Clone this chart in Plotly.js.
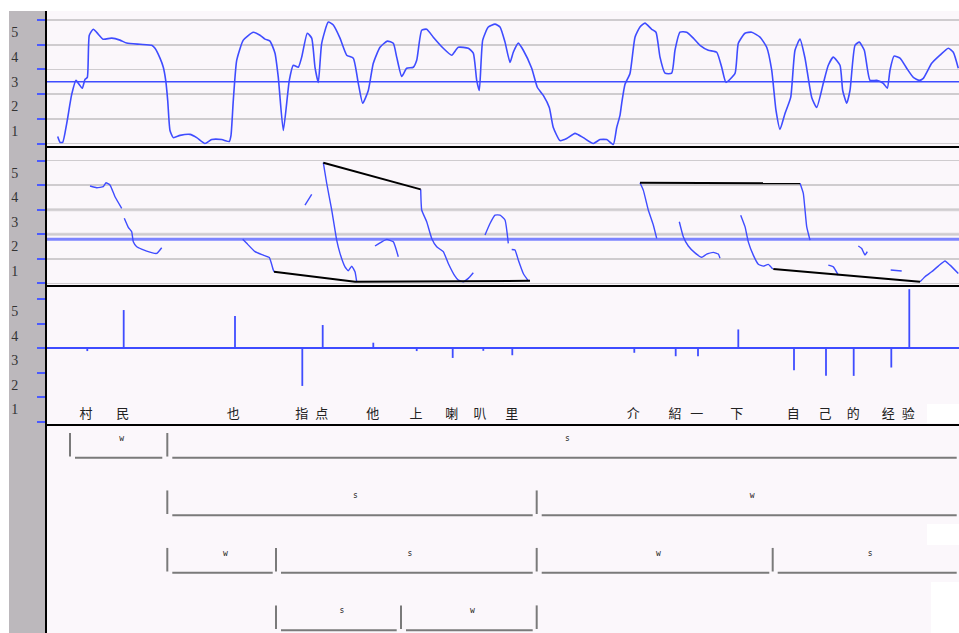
<!DOCTYPE html>
<html><head><meta charset="utf-8">
<script src="https://cdn.plot.ly/plotly-3.0.1.min.js"></script>
<style>html,body{margin:0;padding:0;background:#fff;}#g{width:959px;height:633px;}</style>
</head><body><div id="g"></div>
<script>
// ---- Panel 1: F0 contour (time, level) ----
const p1x = [57.7,60,62.7,66.7,71.7,76,78.3,82.3,85,87.3,89.3,93.3,98.3,103,111.7,120,126.7,140,151.7,155,160,163.3,165.7,167.7,170,173.3,180,190,196.7,205,211.7,221.7,229.3,231,233.3,236.7,243.3,253.3,260,265,270,275,278.3,283.3,289.3,293.3,298.3,301.7,307.3,311.7,315,318.3,321.7,328.3,333.3,340,346.7,353.3,358.3,362.7,368.3,373.3,380,387.3,393.3,396.7,401.7,406.7,413.3,416.7,421.7,426.7,433.3,443.3,451.7,458.3,468.3,473.3,476.7,479.3,482.7,488.3,495,500,505,510,513.3,518.3,523.3,531.7,537.3,543.3,549.3,553.3,560,566.7,575,583.3,593.3,600,606.7,613.3,616.7,620,621.7,625,630,635,640,645,651.7,656,660,665,671.7,675,680,686.7,693.3,700,708.3,716.7,721.7,726,735,738.3,745,751.7,760,766.7,771.7,776,780,785,790.7,795,800,805,811.7,816.7,823.3,828.3,833.3,840,842.7,846.7,850,855,859.3,864.3,870,876.7,883.3,887.3,890,894,900,906.7,913.3,919.3,923.3,931.7,940,948.3,953.3,958.3];
const p1y = [0.78,0.55,0.55,1.31,2.49,3.06,2.94,2.74,3.10,3.18,4.89,5.13,4.93,4.73,4.77,4.69,4.57,4.52,4.48,4.36,3.96,3.59,3.06,2.25,1.03,0.74,0.83,0.87,0.74,0.50,0.66,0.66,0.58,0.83,2.25,3.87,4.69,5.01,4.89,4.73,4.65,4.16,3.18,1.03,3.06,3.67,3.59,4.0,4.97,4.77,3.59,2.98,4.56,5.42,5.30,4.77,4.08,3.96,2.94,2.13,2.65,3.75,4.40,4.65,4.56,4.0,3.22,3.55,3.59,3.87,5.09,5.13,4.81,4.36,4.08,4.40,4.36,4.16,3.06,2.65,4.69,5.22,5.34,5.22,4.61,3.79,4.20,4.57,4.28,3.55,2.78,2.45,1.96,1.15,0.62,0.70,0.91,0.74,0.50,0.66,0.66,0.46,1.15,1.64,2.13,2.90,3.34,4.81,5.22,5.38,5.13,5.01,4.0,3.35,3.35,4.28,5.01,5.01,4.77,4.48,4.28,4.20,3.59,2.98,3.34,4.56,4.97,5.01,4.81,4.40,3.47,1.84,1.07,1.72,2.37,4.28,4.73,3.96,2.37,1.96,2.94,3.67,4.0,3.67,2.65,2.13,2.65,4.48,4.61,4.28,3.06,3.06,2.94,2.74,3.47,4.04,3.96,3.55,3.18,3.06,3.14,3.75,4.08,4.36,4.2,3.55];
const p1ref = 3.0;

// ---- Panel 2: stylised contour segments (null = break) ----
const p2x = [90,96.7,103.3,106,110,115,121.7,null,124.3,128.3,131.7,133.3,136.7,146.7,156.7,161.7,null,
  242.7,246.7,255,263.3,269.3,273.3,274,null,305,311.7,null,
  323.3,326.7,331.7,335,336.7,340,345,348.3,351.7,355,356.7,null,
  375,381.7,386.7,393.3,398.3,null,
  420.7,421.7,426.7,431.7,436.7,443.3,448.3,455,458.3,463.3,468.3,473.3,null,
  485,490,495,500,505,508.3,null,511.7,515,518.3,523.3,528.3,null,
  640,643.3,648.3,653.3,656.7,null,
  679.3,683.3,688.3,695,701.7,706.7,713.3,718.3,720,null,
  740.7,745,748.3,753.3,758.3,763.3,768.3,772.7,null,
  800,803.3,806.7,810,null,828.3,833.3,838.3,null,858.3,861.7,865,867.3,null,890.7,901.7,null,
  920,925,931.7,938.3,945,950,958.3];
const p2y = [4.47,4.40,4.44,4.60,4.51,4.03,3.56,null,3.15,2.78,2.60,2.19,1.99,1.81,1.72,1.95,null,
  2.30,2.13,1.79,1.65,1.55,1.04,0.97,null,3.69,4.13,null,
  5.42,4.58,3.49,2.67,2.26,1.72,1.17,1.01,1.20,0.97,0.56,null,
  2.02,2.19,2.29,2.19,1.58,null,
  4.33,3.49,3.01,2.33,1.99,1.79,1.31,0.79,0.63,0.56,0.70,0.93,null,
  2.47,2.94,3.28,3.28,3.08,2.13,null,1.88,1.86,1.45,0.90,0.60,null,
  4.60,4.30,3.49,2.88,2.33,null,
  3.01,2.40,2.02,1.74,1.56,1.69,1.76,1.69,1.52,null,
  3.28,2.81,2.19,1.65,1.28,1.20,1.27,1.08,null,
  4.58,4.17,2.81,2.26,null,1.24,1.17,0.83,null,2.02,1.92,1.65,1.79,null,1.04,1.00,null,
  0.56,0.77,0.97,1.20,1.41,1.24,0.90];
const p2blackX = [323.3,420.7,null,274,355,530,null,640,800,null,773.3,920];
const p2blackY = [5.42,4.33,null,0.97,0.56,0.60,null,4.60,4.58,null,1.08,0.56];
const p2ref = 2.30;

// ---- Panel 3: per-syllable spikes around baseline ----
const p3base = 3.5;
const spikeX = [87.3,123.7,235,302.3,322.7,373.3,416.7,452.7,483.3,512.3,634.3,675.7,698,738.3,794,826,853.7,891.3,909.3];
const spikeVal = [3.38,5.05,4.81,1.96,4.44,3.72,3.38,3.10,3.39,3.21,3.31,3.17,3.17,4.26,2.60,2.37,2.37,2.71,5.90];
const charX = [86,122.7,233.3,301.7,321.7,372.7,416,451.7,480,511.7,633.3,675,696.7,736.7,793.3,825,853.3,888.3,908.3];
const charLabels = ['村','民','也','指','点','他','上','喇','叭','里','介','紹','一','下','自','己','的','经','验'];
const charLevel = 0.77;

// ---- Tree (prosodic s/w structure) ----
const treeLevel = [1,1,2,2,3,3,3,3,4,4,4];
const treeStart = [70,167.3,167.3,536.7,167.3,276,536.7,772.7,276,401,536.7];
const treeEnd   = [162.3,956.7,532.7,956.7,272.7,532.7,769.3,956.7,396.7,532.7,null];
const treeLabel = ['w','s','s','w','w','s','w','s','s','w',''];

const tickLabels = ['1','2','3','4','5'];
const tickPos = [1,2,3,4,5];

const BLUE = '#3f4cff';
const traces = [];
traces.push({x:[47,959], y:[p1ref,p1ref], xaxis:'x', yaxis:'y', mode:'lines', line:{color:BLUE,width:1.5}});
traces.push({x:p1x, y:p1y, xaxis:'x', yaxis:'y', mode:'lines', line:{color:BLUE,width:1.6,shape:'spline',smoothing:0.5}});
traces.push({x:[47,959], y:[p2ref,p2ref], xaxis:'x2', yaxis:'y2', mode:'lines', line:{color:'#7c84ff',width:3}});
traces.push({x:p2x, y:p2y, xaxis:'x2', yaxis:'y2', mode:'lines', connectgaps:false, line:{color:BLUE,width:1.4,shape:'spline',smoothing:0.4}});
traces.push({x:p2blackX, y:p2blackY, xaxis:'x2', yaxis:'y2', mode:'lines', connectgaps:false, line:{color:'#000',width:2}});
traces.push({x:[47,959], y:[p3base,p3base], xaxis:'x3', yaxis:'y3', mode:'lines', line:{color:BLUE,width:2}});
const sx=[], sy=[];
spikeX.forEach((x,i)=>{sx.push(x,x,null); sy.push(p3base,spikeVal[i],null);});
traces.push({x:sx, y:sy, xaxis:'x3', yaxis:'y3', mode:'lines', connectgaps:false, line:{color:BLUE,width:1.8}});
traces.push({x:charX, y:charX.map(()=>charLevel), text:charLabels, xaxis:'x3', yaxis:'y3', mode:'text',
  textfont:{family:'Noto Sans CJK SC', size:13, color:'#222'}});
// tree
const GAP = 5, BAR_TOP = 0.43, BAR_BOT = 0.02, LAB_OFF = 0.33;
const bx=[], by=[], lx=[], ly=[], tx=[], ty=[], tt=[];
treeLevel.forEach((L,i)=>{
  const s=treeStart[i], e=treeEnd[i];
  bx.push(s,s,null); by.push(L-BAR_TOP,L-BAR_BOT,null);
  if(e!==null){ lx.push(s+GAP,e,null); ly.push(L,L,null);
    tx.push((s+GAP+e)/2+3); ty.push(L-LAB_OFF); tt.push(treeLabel[i]); }
});
traces.push({x:bx, y:by, xaxis:'x4', yaxis:'y4', mode:'lines', connectgaps:false, line:{color:'#7a7a7a',width:2}});
traces.push({x:lx, y:ly, xaxis:'x4', yaxis:'y4', mode:'lines', connectgaps:false, line:{color:'#7a7a7a',width:2}});
traces.push({x:tx, y:ty, text:tt, xaxis:'x4', yaxis:'y4', mode:'text', textfont:{family:'DejaVu Sans Mono', size:8, color:'#222'}});

const H=622;
function dom(p0,p1){return [(633-p1)/H,(633-p0)/H];}
function xax(anchor,line){return {anchor:anchor, domain:[0,1], range:[47,959], showgrid:false, zeroline:false, showticklabels:false, ticks:'', showline:line, linecolor:'#000', linewidth:2, fixedrange:true};}
function yax(anchor,d,r,grid,labels){
  const o={anchor:anchor, domain:d, range:r, zeroline:false, showgrid:false, showline:true, linecolor:'#000', linewidth:2, fixedrange:true};
  if(labels){
    o.tickmode='array'; o.tickvals=tickPos; o.ticktext=tickLabels; o.ticks=''; o.ticklabelstandoff=24;
    o.tickfont={family:'Liberation Serif', size:14, color:'#333'};
    o.minor={tickmode:'linear', tick0:0.5, dtick:1, ticks:'outside', ticklen:8, tickwidth:2, tickcolor:'#4a5aff', showgrid:grid, gridcolor:'#cfcccf', gridwidth:1.5};
  } else { o.showticklabels=false; o.ticks=''; }
  return o;
}
const layout = {
  width:959, height:633, margin:{l:47,r:0,t:11,b:0}, showlegend:false, hovermode:false,
  paper_bgcolor:'#ffffff', plot_bgcolor:'#fbf7fb',
  xaxis:xax('y',true), xaxis2:xax('y2',true), xaxis3:xax('y3',true), xaxis4:xax('y4',false),
  yaxis:yax('x',dom(11,146),[0.40,5.87],true,true),
  yaxis2:yax('x2',dom(146,285),[0.43,6.10],true,true),
  yaxis3:yax('x3',dom(285,424),[0.41,6.07],false,true),
  yaxis4:yax('x4',dom(424,633),[4.05,0.414],false,false),
  shapes:[
    {type:'rect', xref:'paper', yref:'paper', x0:-38/912, x1:-1/912, y0:0, y1:1, fillcolor:'#bcb8bc', line:{width:0}, layer:'below'},
    {type:'line', xref:'x2 domain', yref:'y2', x0:0, x1:1, y0:3.5, y1:3.5, line:{color:'#d6d3d6', width:3}, layer:'below'},
    {type:'line', xref:'x2 domain', yref:'y2', x0:0, x1:1, y0:2.5, y1:2.5, line:{color:'#d6d3d6', width:3}, layer:'below'},
    {type:'rect', xref:'paper', yref:'paper', x0:(927-47)/912, x1:1, y0:(633-423)/H, y1:(633-404)/H, fillcolor:'#ffffff', line:{width:0}, layer:'below'},
    {type:'rect', xref:'paper', yref:'paper', x0:(927-47)/912, x1:1, y0:(633-545)/H, y1:(633-524)/H, fillcolor:'#ffffff', line:{width:0}, layer:'below'},
    {type:'rect', xref:'paper', yref:'paper', x0:(931-47)/912, x1:1, y0:0, y1:(633-582)/H, fillcolor:'#ffffff', line:{width:0}, layer:'below'}
  ]
};
Plotly.newPlot('g', traces, layout, {staticPlot:true, displayModeBar:false});
</script></body></html>
